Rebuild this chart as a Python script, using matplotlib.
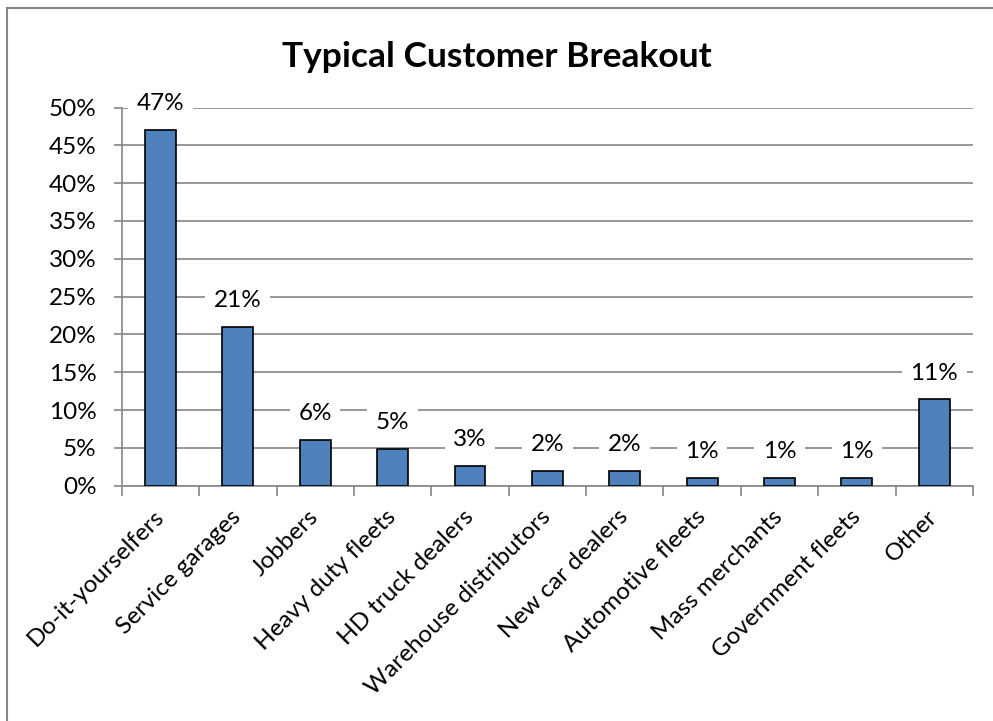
import matplotlib
matplotlib.use("Agg")
import matplotlib.pyplot as plt
from matplotlib.patches import Rectangle
from matplotlib.ticker import FixedLocator, FuncFormatter

# values (percent)
categories = ["Do-it-yourselfers", "Service garages", "Jobbers", "Heavy duty fleets",
              "HD truck dealers", "Warehouse distributors", "New car dealers",
              "Automotive fleets", "Mass merchants", "Government fleets", "Other"]
shares = [47, 21, 6, 4.9, 2.6, 2, 2, 1, 1, 1, 11.4]
yticks = [0, 5, 10, 15, 20, 25, 30, 35, 40, 45, 50]

FONT = "Lato"
GRAY = "#868686"
BAR = "#4F81BD"
FS = 17.5

fig = plt.figure(figsize=(9.93, 7.21), dpi=100)
ax = fig.add_axes([0.1226, 0.3264, 0.8573, 0.5245])

x = list(range(len(categories)))
ax.bar(x, shares, width=0.4, color=BAR, edgecolor="black", linewidth=1.2, zorder=3)

# data labels with white backing over the gridlines (kept inside the plot top)
for xi, v in zip(x, shares):
    ax.annotate(f"{round(v):d}%", (xi, min(v, 47.4)), xytext=(0, 19), textcoords="offset points",
                ha="center", va="center", fontsize=FS, family=FONT, zorder=4,
                bbox=dict(boxstyle="square,pad=0.35", fc="white", ec="none"))

ax.set_xlim(-0.5, len(categories) - 0.5)
ax.set_ylim(0, 50)
ax.set_yticks(yticks)
ax.yaxis.set_major_formatter(FuncFormatter(lambda v, _: f"{v:.0f}%"))
ax.grid(axis="y", color=GRAY, linewidth=1.2, zorder=0)

# category labels at centres, tick marks at boundaries
ax.set_xticks(x)
ax.set_xticklabels(categories, rotation=45, ha="right", va="center",
                   rotation_mode="anchor", fontsize=FS, family=FONT)
ax.xaxis.set_minor_locator(FixedLocator([i - 0.5 for i in range(len(categories) + 1)]))
ax.tick_params(axis="x", which="major", length=0, pad=20)
ax.tick_params(axis="x", which="minor", length=7, color=GRAY, width=1.2)
ax.tick_params(axis="y", length=6, color=GRAY, width=1.2, pad=12, labelsize=FS)
for lab in ax.get_yticklabels():
    lab.set_family(FONT)

for s in ("top", "right"):
    ax.spines[s].set_visible(False)
for s in ("left", "bottom"):
    ax.spines[s].set_color(GRAY)
    ax.spines[s].set_linewidth(1.2)

fig.text(497 / 993, 1 - 57 / 721, "Typical Customer Breakout", ha="center", va="center",
         fontsize=25.5, fontweight="bold", family=FONT)

# chart-area frame (cropped at right and bottom in the reference)
fig.patches.append(Rectangle((7 / 993, -0.05), 1.1, 1.05 + (1 - 8 / 721) - 1.0,
                             transform=fig.transFigure, fill=False,
                             edgecolor=GRAY, linewidth=1.5))

fig.savefig("out.png", dpi=100)
